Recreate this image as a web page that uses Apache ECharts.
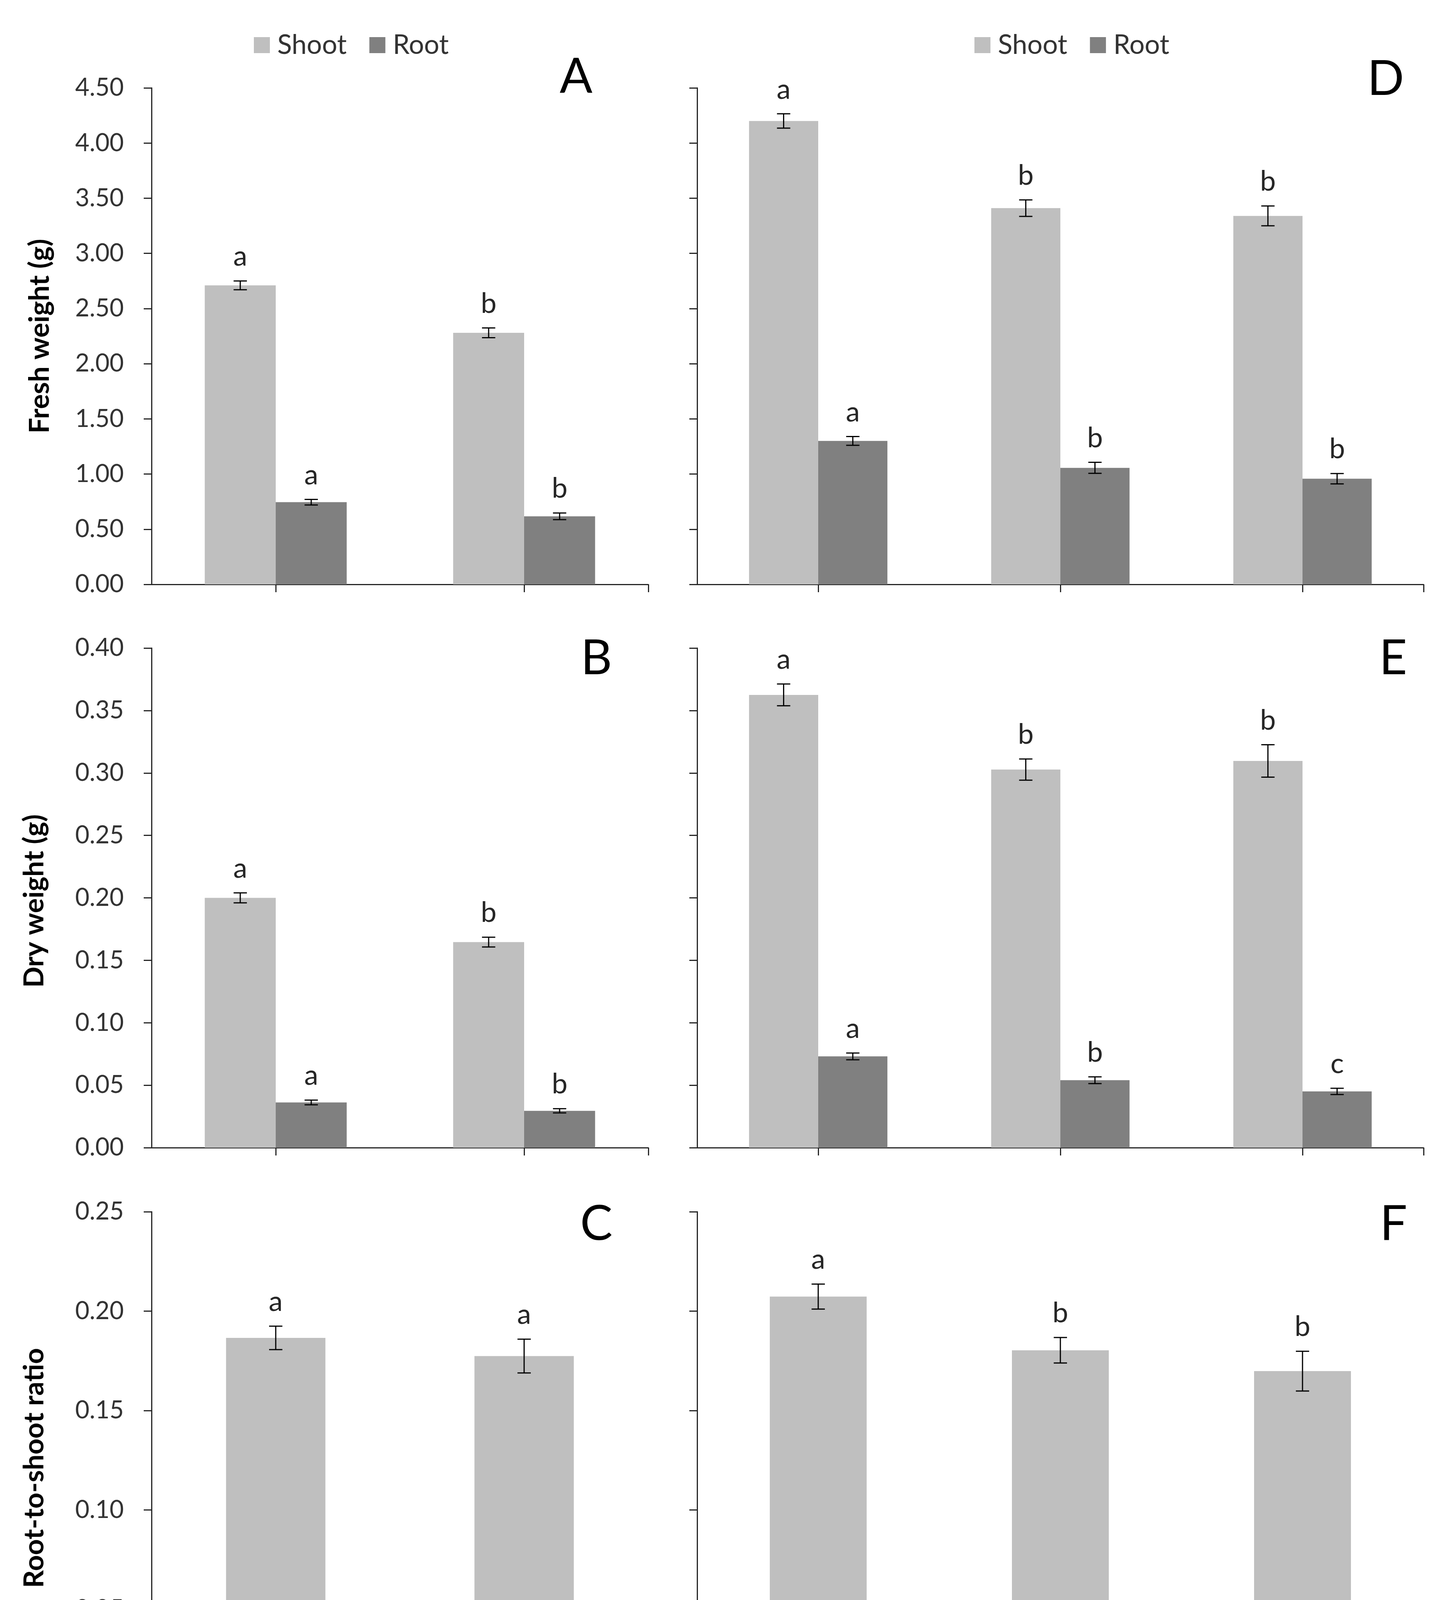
<!DOCTYPE html>
<html><head><meta charset="utf-8">
<script src="https://cdn.jsdelivr.net/npm/echarts@6/dist/echarts.min.js"></script>
<style>html,body{margin:0;padding:0;background:#fff}#c{width:3728px;height:4680px}</style>
</head><body><div id="c"></div>
<script>
// ---------- data ----------
const categoriesLeft = ['Optimum', 'Acceptable'];
const categoriesRight = ['Optimum', 'Acceptable', 'Not acceptable'];
const legendNames = ['Shoot', 'Root'];

// Panel A – fresh weight, left
const freshShootA = [2.71, 2.28];
const freshShootErrA = [0.04, 0.044];
const freshShootLettersA = ['a', 'b'];
const freshRootA = [0.745, 0.617];
const freshRootErrA = [0.025, 0.03];
const freshRootLettersA = ['a', 'b'];

// Panel D – fresh weight, right
const freshShootD = [4.20, 3.41, 3.34];
const freshShootErrD = [0.065, 0.075, 0.09];
const freshShootLettersD = ['a', 'b', 'b'];
const freshRootD = [1.30, 1.056, 0.958];
const freshRootErrD = [0.04, 0.05, 0.047];
const freshRootLettersD = ['a', 'b', 'b'];

// Panel B – dry weight, left
const dryShootB = [0.200, 0.1646];
const dryShootErrB = [0.004, 0.0039];
const dryShootLettersB = ['a', 'b'];
const dryRootB = [0.0362, 0.0295];
const dryRootErrB = [0.0019, 0.0017];
const dryRootLettersB = ['a', 'b'];

// Panel E – dry weight, right
const dryShootE = [0.3625, 0.3027, 0.3096];
const dryShootErrE = [0.0087, 0.0085, 0.013];
const dryShootLettersE = ['a', 'b', 'b'];
const dryRootE = [0.0731, 0.054, 0.045];
const dryRootErrE = [0.0027, 0.0027, 0.0025];
const dryRootLettersE = ['a', 'b', 'c'];

// Panel C – root-to-shoot ratio, left
const ratioC = [0.1865, 0.1774];
const ratioErrC = [0.0059, 0.0085];
const ratioLettersC = ['a', 'a'];

// Panel F – root-to-shoot ratio, right
const ratioF = [0.2073, 0.1803, 0.1698];
const ratioErrF = [0.0063, 0.0064, 0.01];
const ratioLettersF = ['a', 'b', 'b'];

// axis scales
const freshAxis = { min: 0, max: 4.5, interval: 0.5 };
const dryAxis = { min: 0, max: 0.4, interval: 0.05 };
const ratioAxis = { min: 0, max: 0.25, interval: 0.05 };
const panelLetters = ['A', 'B', 'C', 'D', 'E', 'F'];
const yNames = ['Fresh weight (g)', 'Dry weight (g)', 'Root-to-shoot ratio'];
const xName = 'Quality category';

// ---------- style ----------
const FONT = 'Lato';
const SHOOT_COLOR = '#BFBFBF';
const ROOT_COLOR = '#808080';
const AXIS_COLOR = '#262626';
const LABEL_COLOR = '#333333';
const FS = 63;
const LETTER_FS = 72;
const TITLE_FS = 71;

const grids = [
  { left: 388, top: 225, width: 1272, height: 1271 },   // A
  { left: 388, top: 1659, width: 1272, height: 1279 },  // B
  { left: 388, top: 3102, width: 1272, height: 1272 },  // C
  { left: 1785, top: 225, width: 1860, height: 1271 },  // D
  { left: 1785, top: 1659, width: 1860, height: 1279 }, // E
  { left: 1785, top: 3102, width: 1860, height: 1272 }  // F
];
const yNameGaps = [250, 264, 264];
const yNamePads = [[0, 0, 0, 0], [0, 16, 0, 0], [0, 40, 0, 0]];
const xNamePads = [[0, 0, 0, 0], [0, 0, 0, 20]];

const axisLineStyle = { color: AXIS_COLOR, width: 3 };

const xAxes = [];
const yAxes = [];
const yScales = [freshAxis, dryAxis, ratioAxis, freshAxis, dryAxis, ratioAxis];

grids.forEach((g, gi) => {
  const isLeft = gi < 3;
  const row = gi % 3;
  const isBottom = row === 2;
  xAxes.push({
    gridIndex: gi, type: 'category', position: 'bottom',
    data: isLeft ? categoriesLeft : categoriesRight,
    axisLine: { show: true, lineStyle: axisLineStyle },
    axisTick: { show: true, alignWithLabel: true, length: 20, lineStyle: axisLineStyle },
    axisLabel: { show: isBottom, fontSize: 65, color: LABEL_COLOR, fontFamily: FONT, margin: 58 },
    name: isBottom ? xName : '',
    nameLocation: 'middle', nameGap: 162,
    nameTextStyle: { fontSize: TITLE_FS, fontWeight: 'bold', color: '#000', fontFamily: FONT,
                     padding: xNamePads[isLeft ? 0 : 1] },
    splitLine: { show: false }
  });
});
// extra value axes only used to draw the closing tick at the right end of each x axis
grids.forEach((g, gi) => {
  xAxes.push({
    gridIndex: gi, type: 'value', position: 'bottom', min: 0, max: 1, interval: 1,
    axisLine: { show: false },
    axisTick: { show: true, length: 20, lineStyle: axisLineStyle, customValues: [1] },
    axisLabel: { show: false }, splitLine: { show: false }
  });
});
grids.forEach((g, gi) => {
  const isLeft = gi < 3;
  const row = gi % 3;
  const sc = yScales[gi];
  yAxes.push({
    gridIndex: gi, type: 'value', min: sc.min, max: sc.max, interval: sc.interval,
    axisLine: { show: true, lineStyle: axisLineStyle },
    axisTick: { show: true, length: 20, lineStyle: axisLineStyle },
    axisLabel: { show: isLeft, fontSize: FS, color: LABEL_COLOR, fontFamily: FONT, margin: 71,
                 formatter: v => v.toFixed(2) },
    splitLine: { show: false },
    name: isLeft ? yNames[row] : '',
    nameLocation: 'middle', nameGap: yNameGaps[row], nameRotate: 90,
    nameTextStyle: { fontSize: TITLE_FS, fontWeight: 'bold', color: '#000', fontFamily: FONT,
                     padding: yNamePads[row] }
  });
});

const PAIR_GAP = '42.857%';
const SINGLE_GAP = '60%';
const PAIR_OFFSET = 1 / 7;

function bar(name, data, gi, color, gap) {
  return { type: 'bar', name, data, xAxisIndex: gi, yAxisIndex: gi,
           itemStyle: { color }, barGap: '0%', barCategoryGap: gap, silent: true };
}
function errBars(gi, values, errs, letters, offFrac) {
  return {
    type: 'custom', xAxisIndex: gi, yAxisIndex: gi, z: 5, silent: true, clip: false,
    data: values.map((v, i) => [i, v, errs[i]]),
    encode: { x: 0, y: 1 },
    renderItem: function (params, api) {
      const i = api.value(0), v = api.value(1), e = api.value(2);
      const band = api.size([1, 0])[0];
      const top = api.coord([i, v + e]);
      const bot = api.coord([i, v - e]);
      const x = top[0] + offFrac * band;
      const cap = 17;
      const ls = { stroke: '#000', lineWidth: 3 };
      return {
        type: 'group', children: [
          { type: 'line', shape: { x1: x, y1: top[1], x2: x, y2: bot[1] }, style: ls },
          { type: 'line', shape: { x1: x - cap, y1: top[1], x2: x + cap, y2: top[1] }, style: ls },
          { type: 'line', shape: { x1: x - cap, y1: bot[1], x2: x + cap, y2: bot[1] }, style: ls },
          { type: 'text', x: x, y: top[1] - 62,
            style: { text: letters[params.dataIndex], fontSize: LETTER_FS, fontFamily: FONT, fill: '#262626',
                     align: 'center', verticalAlign: 'middle' } }
        ]
      };
    }
  };
}

const series = [
  bar('Shoot', freshShootA, 0, SHOOT_COLOR, PAIR_GAP),
  bar('Root', freshRootA, 0, ROOT_COLOR, PAIR_GAP),
  errBars(0, freshShootA, freshShootErrA, freshShootLettersA, -PAIR_OFFSET),
  errBars(0, freshRootA, freshRootErrA, freshRootLettersA, PAIR_OFFSET),

  bar('Shoot', dryShootB, 1, SHOOT_COLOR, PAIR_GAP),
  bar('Root', dryRootB, 1, ROOT_COLOR, PAIR_GAP),
  errBars(1, dryShootB, dryShootErrB, dryShootLettersB, -PAIR_OFFSET),
  errBars(1, dryRootB, dryRootErrB, dryRootLettersB, PAIR_OFFSET),

  bar('Root-to-shoot ratio', ratioC, 2, SHOOT_COLOR, SINGLE_GAP),
  errBars(2, ratioC, ratioErrC, ratioLettersC, 0),

  bar('Shoot', freshShootD, 3, SHOOT_COLOR, PAIR_GAP),
  bar('Root', freshRootD, 3, ROOT_COLOR, PAIR_GAP),
  errBars(3, freshShootD, freshShootErrD, freshShootLettersD, -PAIR_OFFSET),
  errBars(3, freshRootD, freshRootErrD, freshRootLettersD, PAIR_OFFSET),

  bar('Shoot', dryShootE, 4, SHOOT_COLOR, PAIR_GAP),
  bar('Root', dryRootE, 4, ROOT_COLOR, PAIR_GAP),
  errBars(4, dryShootE, dryShootErrE, dryShootLettersE, -PAIR_OFFSET),
  errBars(4, dryRootE, dryRootErrE, dryRootLettersE, PAIR_OFFSET),

  bar('Root-to-shoot ratio', ratioF, 5, SHOOT_COLOR, SINGLE_GAP),
  errBars(5, ratioF, ratioErrF, ratioLettersF, 0)
];

const legendCommon = {
  data: legendNames, icon: 'rect', itemWidth: 41, itemHeight: 41, itemGap: 58,
  top: 76, selectedMode: false,
  textStyle: { fontSize: 69, color: LABEL_COLOR, fontFamily: FONT, padding: [0, 0, 0, 14] }
};

const letterPos = [[1475, 197], [1527, 1686], [1527, 3134], [3548, 203], [3567, 1686], [3568, 3134]];

const chart = echarts.init(document.getElementById('c'), null, { renderer: 'canvas' });
chart.setOption({
  animation: false,
  backgroundColor: '#fff',
  grid: grids,
  xAxis: xAxes,
  yAxis: yAxes,
  legend: [
    Object.assign({}, legendCommon, { left: 645 }),
    Object.assign({}, legendCommon, { left: 2490 })
  ],
  graphic: panelLetters.map((t, i) => ({
    type: 'text', x: letterPos[i][0], y: letterPos[i][1],
    style: { text: t, fontSize: 124, fontFamily: FONT, fill: '#000', align: 'center', verticalAlign: 'middle' }
  })),
  series: series
});
</script></body></html>
